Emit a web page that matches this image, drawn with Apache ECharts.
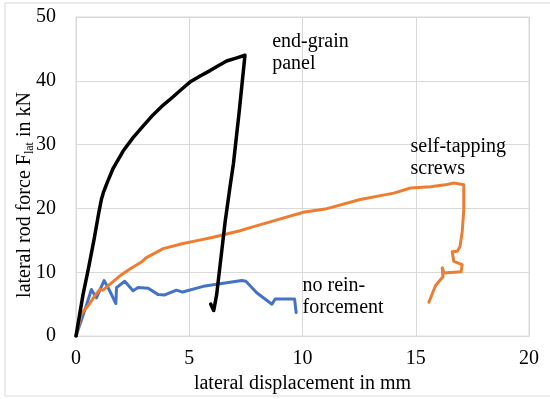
<!DOCTYPE html>
<html>
<head>
<meta charset="utf-8">
<script src="https://cdn.jsdelivr.net/npm/echarts@6/dist/echarts.min.js"></script>
<style>
  html, body { margin: 0; padding: 0; background: #fff; }
  #chart { width: 550px; height: 399px; }
</style>
</head>
<body>
<div id="chart"></div>
<script>
// Lateral rod force vs. lateral displacement for three configurations.
// Each point is [displacement in mm, force in kN].
const endGrainPanel = [
  [0, 0], [0.31, 6.5], [0.55, 10.6], [0.8, 15.2], [1.0, 19.2], [1.12, 21.4],
  [1.22, 22.6], [1.35, 23.8], [1.64, 26.3], [2.08, 29.0], [2.52, 31.1], [2.96, 32.9],
  [3.41, 34.7], [3.85, 36.2], [4.29, 37.5], [4.7, 38.8], [5.03, 39.8],
  [5.5, 40.8], [5.92, 41.6], [6.3, 42.4], [6.65, 43.1], [7.1, 43.6],
  [7.46, 44.0], [7.2, 35.0], [6.95, 27.0], [6.8, 23.4], [6.58, 17.8],
  [6.43, 13.2], [6.21, 6.5], [6.08, 4.0], [5.95, 5.0]
];

const selfTappingScrews = [
  [0, 0], [0.24, 3.5], [0.53, 4.75], [0.83, 6.3], [1.05, 7.3], [1.19, 7.2],
  [1.49, 8.1], [1.93, 9.4], [2.38, 10.5], [2.89, 11.6], [3.11, 12.3],
  [3.85, 13.7], [4.73, 14.5], [5.4, 15.0], [6.06, 15.5], [6.65, 16.0],
  [7.24, 16.5], [7.69, 17.0], [8.72, 18.05], [10.04, 19.4], [11.0, 19.9],
  [12.55, 21.4], [14.03, 22.4], [14.77, 23.2], [15.65, 23.4], [16.3, 23.7],
  [16.68, 24.0], [17.12, 23.7], [17.12, 19.8], [17.05, 16.3], [16.95, 14.0],
  [16.83, 13.3], [16.61, 13.2], [16.68, 11.7], [17.05, 11.2], [17.0, 10.1],
  [16.24, 9.9], [16.17, 10.7], [16.2, 9.3], [15.87, 7.9], [15.58, 5.3]
];

const noReinforcement = [
  [0, 0], [0.43, 4.5], [0.68, 7.3], [0.9, 6.0], [1.24, 8.7], [1.46, 7.3],
  [1.76, 5.1], [1.79, 7.6], [2.15, 8.6], [2.52, 7.1], [2.74, 7.6],
  [3.19, 7.5], [3.63, 6.5], [3.92, 6.45], [4.44, 7.2], [4.51, 7.3],
  [4.71, 6.9], [5.62, 7.8], [6.36, 8.2], [7.32, 8.7], [7.5, 8.6],
  [7.98, 6.8], [8.65, 5.0], [8.79, 5.8], [9.2, 5.8], [9.65, 5.8], [9.72, 3.7]
];

// Series annotations: text and the data point where each text block starts (top-left)
const seriesLabels = [
  { text: 'end-grain\npanel', at: [8.66, 47.8] },
  { text: 'self-tapping\nscrews', at: [14.77, 31.4] },
  { text: 'no rein-\nforcement', at: [10.0, 9.6] }
];

const xTicks = { min: 0, max: 20, interval: 5 };
const yTicks = { min: 0, max: 50, interval: 10 };

const FONT = '"Liberation Serif", "Times New Roman", serif';
const GRID_COLOR = '#d9d9d9';

const chart = echarts.init(document.getElementById('chart'), null, { renderer: 'canvas' });

function lineSeries(name, data, color, width) {
  return {
    name: name,
    type: 'line',
    data: data,
    showSymbol: false,
    symbol: 'none',
    smooth: false,
    lineStyle: { color: color, width: width, join: 'round', cap: 'round' },
    animation: false
  };
}

chart.setOption({
  animation: false,
  backgroundColor: '#fff',
  grid: { left: 76, top: 17, right: 21, bottom: 56, show: true, borderColor: GRID_COLOR, borderWidth: 1 },
  xAxis: {
    type: 'value',
    min: xTicks.min, max: xTicks.max, interval: xTicks.interval,
    name: 'lateral displacement in mm',
    nameLocation: 'middle',
    nameGap: 29,
    nameTextStyle: { fontFamily: FONT, fontSize: 20, color: '#000', verticalAlign: 'top' },
    axisLine: { show: true, lineStyle: { color: GRID_COLOR } },
    axisTick: { show: false },
    axisLabel: { fontFamily: FONT, fontSize: 20, color: '#000', margin: 13 },
    splitLine: { show: true, lineStyle: { color: GRID_COLOR, width: 1 } }
  },
  yAxis: {
    type: 'value',
    min: yTicks.min, max: yTicks.max, interval: yTicks.interval,
    axisLine: { show: true, lineStyle: { color: GRID_COLOR } },
    axisTick: { show: false },
    axisLabel: { fontFamily: FONT, fontSize: 20, color: '#000', margin: 20 },
    splitLine: { show: true, lineStyle: { color: GRID_COLOR, width: 1 } }
  },
  series: [
    lineSeries('no reinforcement', noReinforcement, '#4472C4', 3),
    lineSeries('self-tapping screws', selfTappingScrews, '#ED7D31', 3),
    lineSeries('end-grain panel', endGrainPanel, '#000000', 3.5)
  ]
});

// Outer frame, rotated y-axis title with subscript, and series annotations
const graphics = [
  {
    type: 'rect',
    shape: { x: 5, y: 3, width: 560, height: 393 },
    style: { fill: null, stroke: GRID_COLOR, lineWidth: 1 },
    silent: true,
    z: -1
  },
  {
    type: 'text',
    x: 25, y: 195,
    rotation: Math.PI / 2,
    style: {
      text: '{m|lateral rod force F}{s|lat}{m| in kN}',
      align: 'center',
      verticalAlign: 'middle',
      rich: {
        m: { fontFamily: FONT, fontSize: 20, fill: '#000' },
        s: { fontFamily: FONT, fontSize: 12, fill: '#000', padding: [9, 0, 0, 0] }
      }
    }
  }
];

seriesLabels.forEach(function (lab) {
  const p = chart.convertToPixel({ gridIndex: 0 }, lab.at);
  graphics.push({
    type: 'text',
    x: p[0], y: p[1],
    style: {
      text: lab.text,
      fontFamily: FONT,
      fontSize: 20,
      lineHeight: 22,
      fill: '#000',
      align: 'left',
      verticalAlign: 'top'
    }
  });
});

chart.setOption({ graphic: graphics });
</script>
</body>
</html>
